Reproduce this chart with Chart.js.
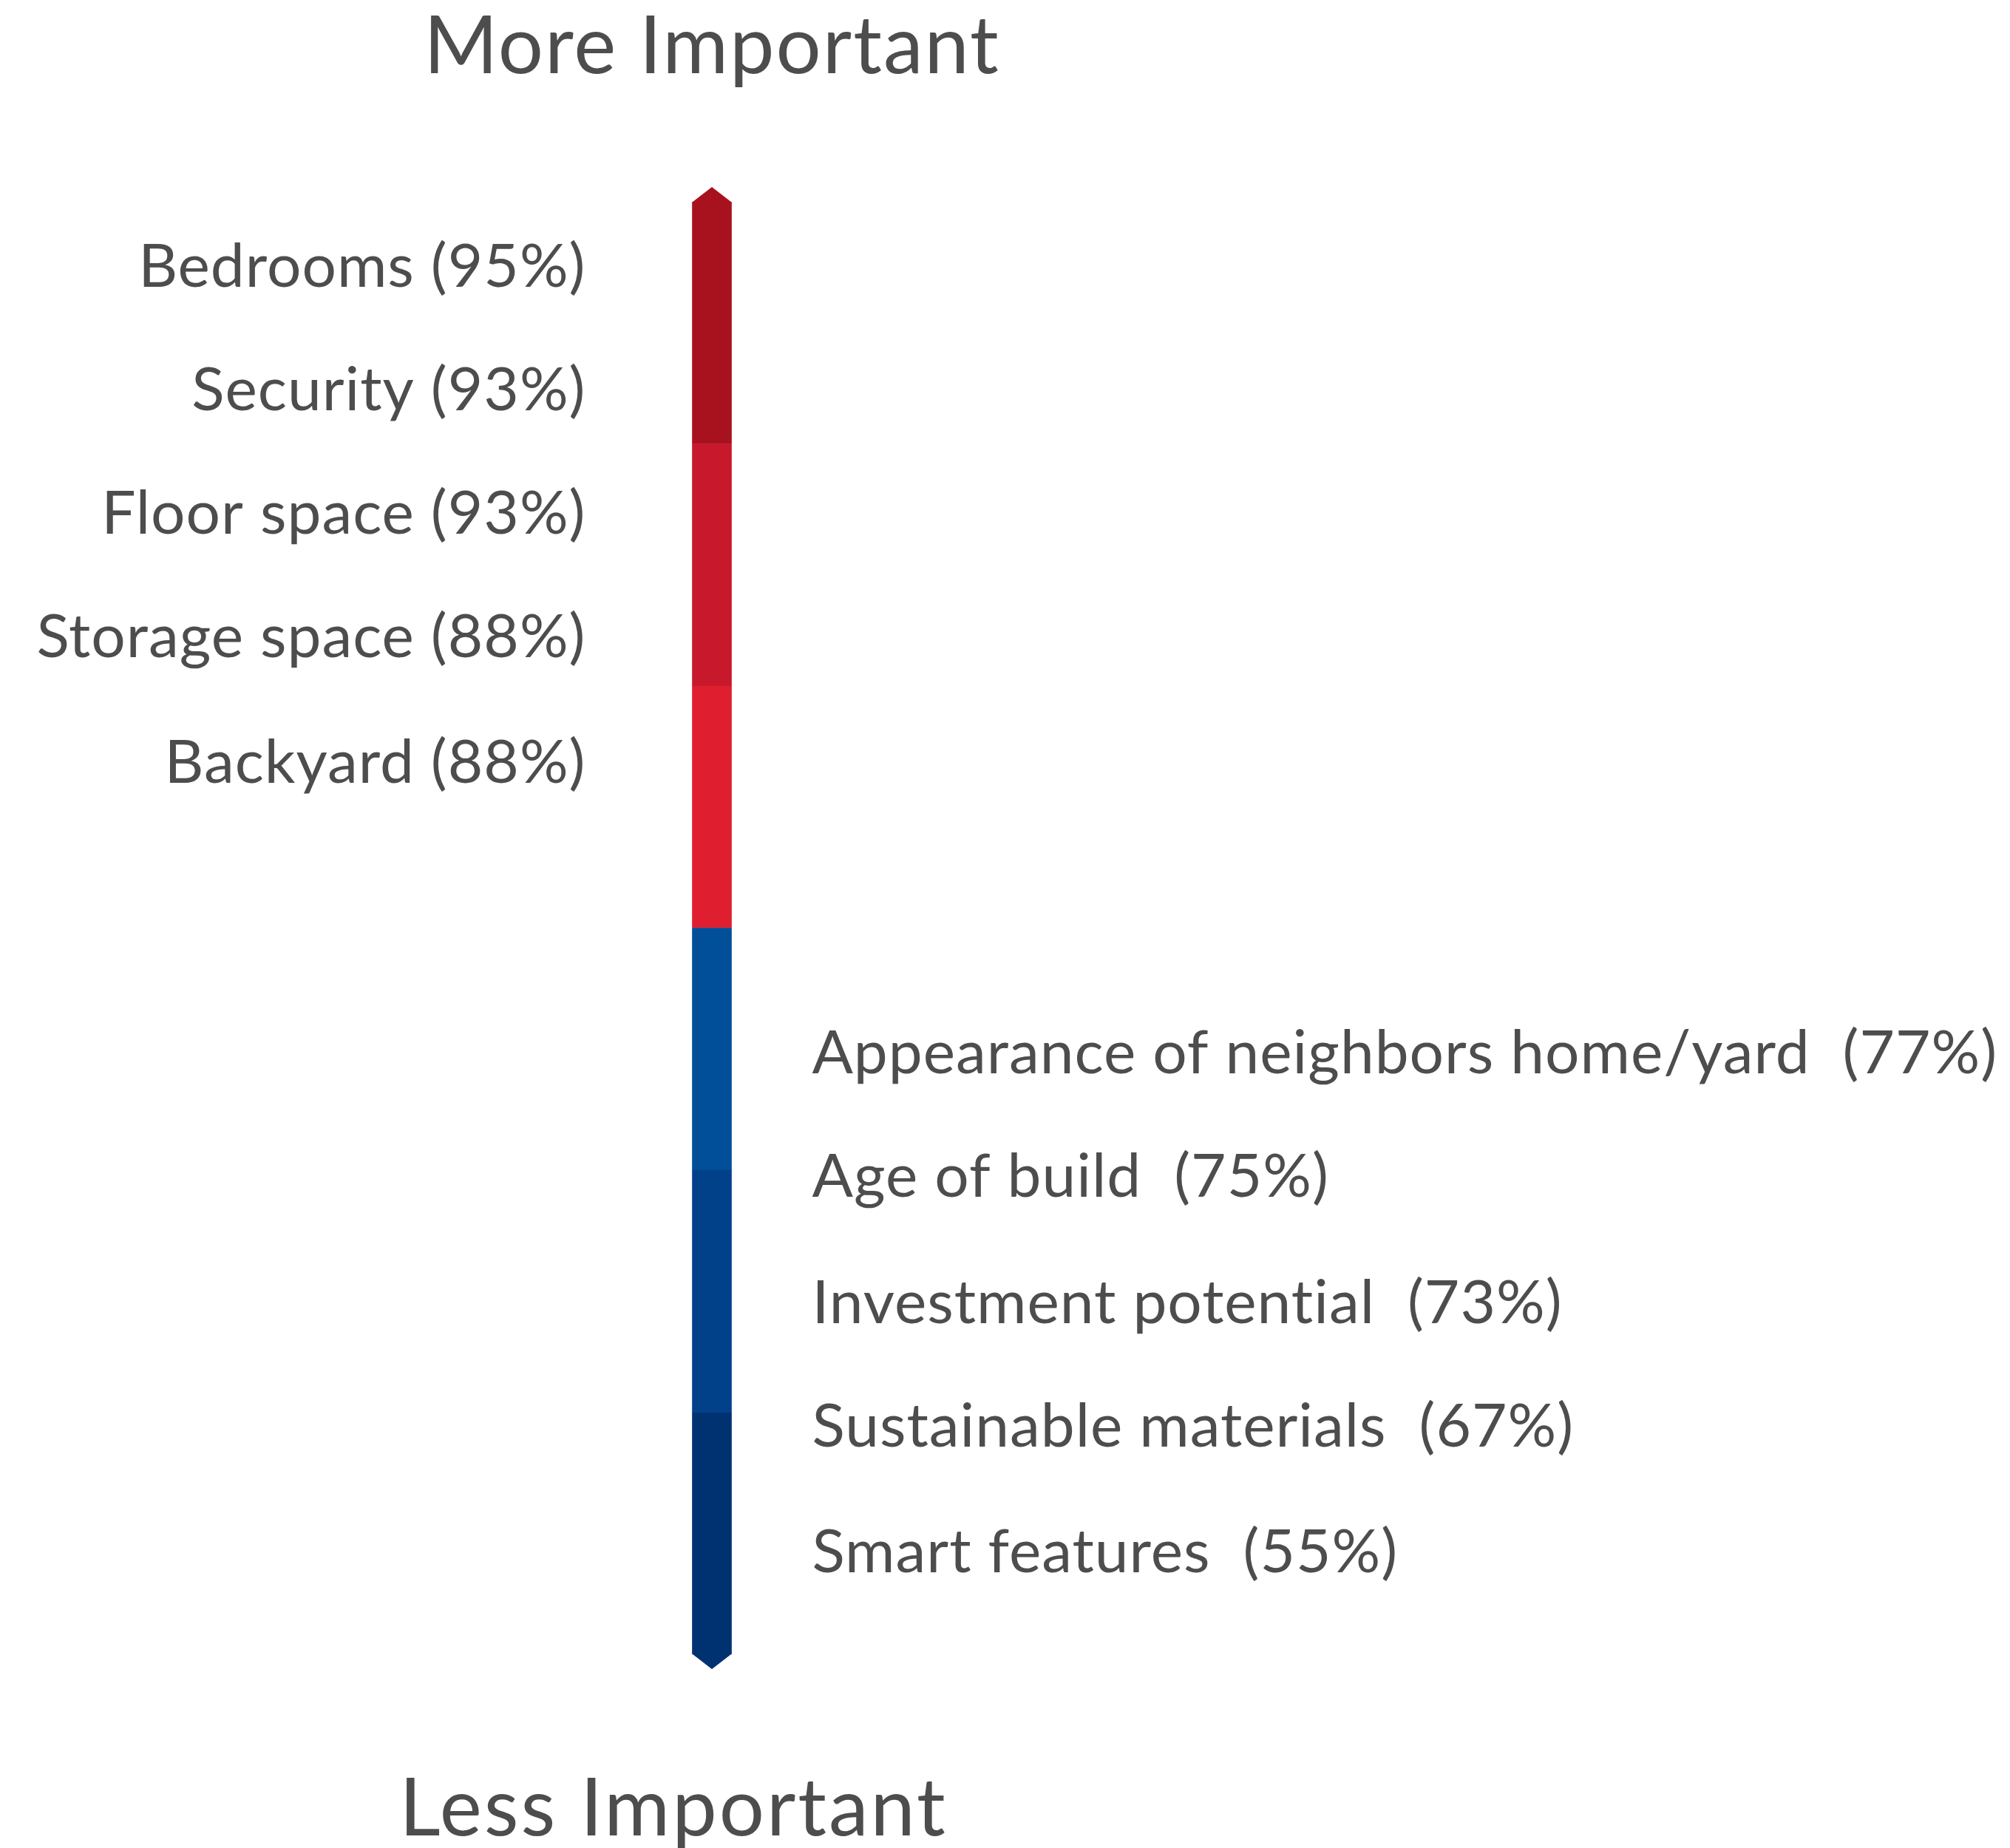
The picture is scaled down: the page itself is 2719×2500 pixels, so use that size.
<!DOCTYPE html>
<html>
<head>
<meta charset="utf-8">
<script src="https://cdn.jsdelivr.net/npm/chart.js@4/dist/chart.umd.min.js"></script>
<style>
    body { margin: 0; background: #ffffff; }
    .chart-container { position: relative; width: 2719px; height: 2500px; }
</style>
</head>
<body>
<div class="chart-container"><canvas id="scaleChart" width="2719" height="2500"></canvas></div>
<script>
// bands of the scale, top to bottom
const bandColors = ["#A8121F", "#C7192B", "#DF1F2F", "#004F98", "#00418A", "#003271"];

const moreItems = ["Bedrooms", "Security", "Floor space", "Storage space", "Backyard"];
const moreValues = [95, 93, 93, 88, 88];

const lessItems = ["Appearance of neighbors home/yard", "Age of build", "Investment potential", "Sustainable materials", "Smart features"];
const lessValues = [77, 75, 73, 67, 55];

const topLabel = "More Important";
const bottomLabel = "Less Important";

const textColor = "#4D4D4D";
const fontFamily = "Lato, 'Noto Sans', sans-serif";

// position of each text line on the band scale (0 = bottom, 6 = top)
const moreSlots = [5.73, 5.22, 4.71, 4.2, 3.68];
const lessSlots = [2.48, 1.97, 1.45, 0.94, 0.42];

const labelsPlugin = {
    id: "scaleLabels",
    afterDatasetsDraw(chart) {
        const ctx = chart.ctx;
        const y = chart.scales.y;
        const bars = chart.getDatasetMeta(0).data[0];
        const cx = bars.x;
        const half = bars.width / 2;
        const tip = 20;

        // pointed caps
        const top = y.getPixelForValue(bandColors.length);
        const bottom = y.getPixelForValue(0);
        ctx.save();
        ctx.fillStyle = bandColors[0];
        ctx.beginPath();
        ctx.moveTo(cx - half, top + 0.5);
        ctx.lineTo(cx, top - tip);
        ctx.lineTo(cx + half, top + 0.5);
        ctx.closePath();
        ctx.fill();
        ctx.fillStyle = bandColors[bandColors.length - 1];
        ctx.beginPath();
        ctx.moveTo(cx - half, bottom - 0.5);
        ctx.lineTo(cx, bottom + tip);
        ctx.lineTo(cx + half, bottom - 0.5);
        ctx.closePath();
        ctx.fill();

        ctx.fillStyle = textColor;
        ctx.textBaseline = "middle";
        ctx.font = "82px " + fontFamily;
        ctx.letterSpacing = "1px";
        ctx.textAlign = "right";
        moreItems.forEach((name, i) => {
            ctx.fillText(`${name} (${moreValues[i]}%)`, cx - half - 144, y.getPixelForValue(moreSlots[i]));
        });
        ctx.textAlign = "left";
        lessItems.forEach((name, i) => {
            ctx.fillText(`${name}  (${lessValues[i]}%)`, cx + half + 109, y.getPixelForValue(lessSlots[i]));
        });

        ctx.font = "108px " + fontFamily;
        ctx.letterSpacing = "2px";
        ctx.textAlign = "center";
        ctx.textBaseline = "alphabetic";
        ctx.fillText(topLabel, cx, 99);
        ctx.letterSpacing = "3px";
        ctx.fillText(bottomLabel, cx - 52, 2483);
        ctx.restore();
    },
};

const ctx = document.getElementById("scaleChart").getContext("2d");

window.scaleChart = new Chart(ctx, {
    type: "bar",
    data: {
        labels: ["importance"],
        // Chart.js stacks from the bottom, so reverse the top-to-bottom bands
        datasets: bandColors.slice().reverse().map((c) => ({
            data: [1],
            backgroundColor: c,
            borderWidth: 0,
            barThickness: 53,
        })),
    },
    options: {
        responsive: false,
        animation: false,
        layout: {
            padding: { top: 273, bottom: 262, left: 910, right: 1703 },
        },
        scales: {
            x: { stacked: true, display: false },
            y: { stacked: true, display: false, min: 0, max: bandColors.length },
        },
        plugins: {
            legend: { display: false },
            tooltip: { enabled: false },
            title: { display: false },
        },
    },
    plugins: [labelsPlugin],
});
</script>
</body>
</html>
